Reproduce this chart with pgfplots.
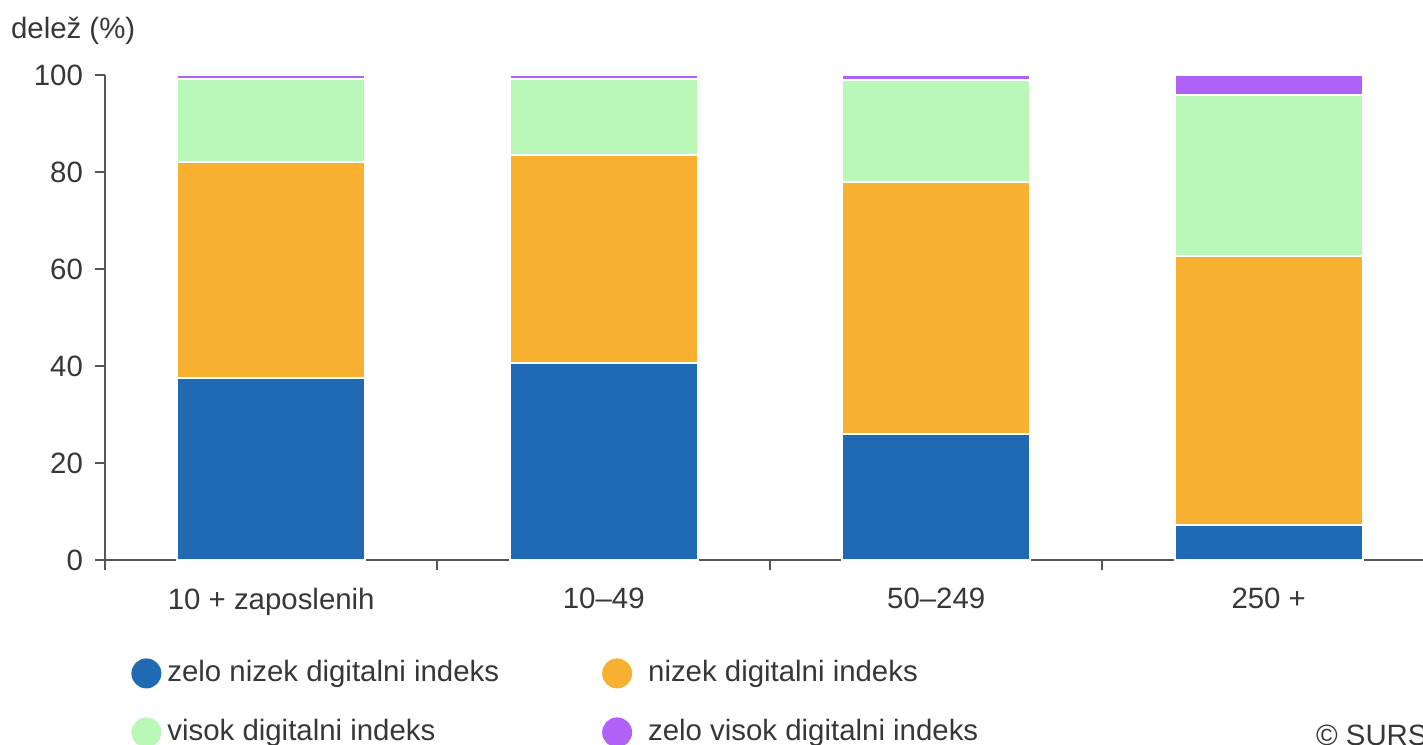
\documentclass[border=0pt]{standalone}
\usepackage{fontspec}
\setmainfont{Liberation Sans}
\usepackage{pgfplots}
\pgfplotsset{compat=1.18}
\definecolor{zelonizek}{RGB}{31,106,178}
\definecolor{nizek}{RGB}{247,176,48}
\definecolor{visok}{RGB}{186,248,186}
\definecolor{zelovisok}{RGB}{176,97,247}
\definecolor{axisgray}{RGB}{85,85,85}
\definecolor{textgray}{RGB}{55,55,55}

\begin{document}
\begin{tikzpicture}[font=\fontsize{14.7}{17.6}\selectfont, text=textgray]
\begin{axis}[
  scale only axis,
  width=659pt, height=242.5pt,
  ybar stacked,
  bar width=94pt,
  xmin=-0.5, xmax=3.464,
  ymin=0, ymax=100,
  axis lines=left,
  axis line style={-, draw=axisgray, line width=1pt},
  tick align=outside,
  major tick length=5pt,
  tick style={draw=axisgray, line width=1pt},
  ytick={0,20,...,100},
  xtick={-0.5,0.5,1.5,2.5},
  xticklabels={},
  extra x ticks={0,1,2,3},
  extra x tick labels={10 + zaposlenih, 10–49, 50–249, 250 +},
  extra x tick style={major tick length=0pt},
  xticklabel style={yshift=-10.5pt},
  yticklabel style={xshift=-2.5pt},
  ticklabel style={text=textgray},
  /pgf/number format/assume math mode=true,
  legend columns=2,
  legend cell align=left,
  legend style={
    at={(axis description cs:0,0)}, anchor=north west,
    xshift=13pt, yshift=-47.5pt,
    draw=none, fill=none, inner sep=0pt,
    row sep=11.5pt,
    nodes={text height=11pt, text depth=3pt},
    /tikz/column 1/.style={column sep=1pt},
    /tikz/column 2/.style={column sep=49.5pt},
    /tikz/column 3/.style={column sep=6pt},
  },
  every axis plot/.append style={draw=white, line width=1pt},
]
\addplot[fill=zelonizek, legend image code/.code={\fill[zelonizek] (7pt,0pt) circle (7pt);}]
  coordinates {(0,37.6) (1,40.7) (2,26.0) (3,7.3)};
\addplot[fill=nizek, legend image code/.code={\fill[nizek] (7pt,0pt) circle (7pt);}]
  coordinates {(0,44.5) (1,42.9) (2,51.9) (3,55.4)};
\addplot[fill=visok, legend image code/.code={\fill[visok] (7pt,0pt) circle (7pt);}]
  coordinates {(0,17.1) (1,15.6) (2,21.1) (3,33.1)};
\addplot[fill=zelovisok, legend image code/.code={\fill[zelovisok] (7pt,0pt) circle (7pt);}]
  coordinates {(0,0.8) (1,0.8) (2,1.1) (3,4.2)};
\legend{zelo nizek digitalni indeks, nizek digitalni indeks, visok digitalni indeks, zelo visok digitalni indeks}
\coordinate (sw) at (rel axis cs:0,0);
\end{axis}
\node[anchor=west] at ([shift={(-50.5pt,264.5pt)}]sw) {delež (\%)};
\node[anchor=west] at ([shift={(602pt,-87.5pt)}]sw) {© SURS};
\pgfresetboundingbox
\path (sw) ++(-52.5pt,-92pt) rectangle ++(711.5pt,372pt);
\end{tikzpicture}
\end{document}
